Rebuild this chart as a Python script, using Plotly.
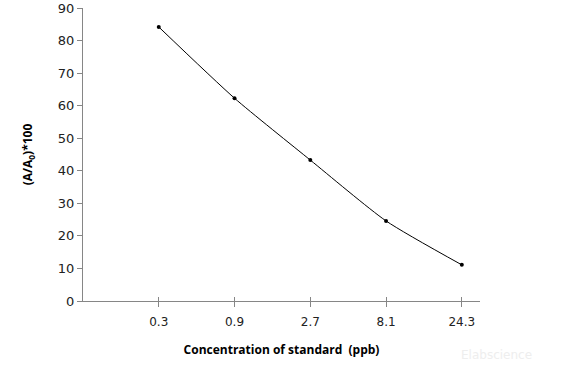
import plotly.graph_objects as go

categories = ["0.3", "0.9", "2.7", "8.1", "24.3"]
values = [84.2, 62.3, 43.3, 24.6, 11.1]
y_ticks = [0, 10, 20, 30, 40, 50, 60, 70, 80, 90]

axis_color = "#868686"
fig = go.Figure()
fig.add_trace(go.Scatter(
    x=list(range(len(categories))), y=values, mode="lines+markers",
    line=dict(color="black", width=1, shape="spline", smoothing=0.6),
    marker=dict(color="black", size=4), showlegend=False))
fig.add_trace(go.Scatter(x=list(range(len(categories))), y=values, mode="markers",
                         marker=dict(opacity=0), xaxis="x2", showlegend=False, hoverinfo="skip"))

fig.update_layout(
    width=588, height=389,
    margin=dict(l=83, r=108, t=8, b=88),
    paper_bgcolor="white", plot_bgcolor="white",
    font=dict(family="DejaVu Sans", color="#333333"),
    xaxis=dict(range=[-1, 4.24], tickmode="array", tickvals=list(range(len(categories))),
               ticktext=categories, showgrid=False, zeroline=False, showline=True,
               linecolor=axis_color, linewidth=1, ticks="outside", ticklen=5,
               tickcolor=axis_color, tickfont=dict(size=12, color="#222222"),
               automargin=False, ticklabelstandoff=5,
               title=dict(text="<b>Concentration of standard  (ppb)</b>",
                          font=dict(family="Open Sans", size=12, color="black"), standoff=17)),
    xaxis2=dict(range=[-1, 4.24], overlaying="x", tickmode="array",
                tickvals=list(range(len(categories))), showticklabels=False,
                ticks="inside", ticklen=4, tickcolor=axis_color, showgrid=False,
                zeroline=False, showline=False, side="bottom", anchor="y"),
    yaxis=dict(range=[0, 90.02], tickmode="array", tickvals=y_ticks,
               showgrid=False, zeroline=False, showline=True, linecolor=axis_color,
               linewidth=1, ticks="outside", ticklen=5, tickcolor=axis_color,
               tickfont=dict(size=13, color="#222222"), automargin=False,
               ticklabeloverflow="allow",
               title=dict(text="<b>(A/A<sub>0</sub>)*100</b>",
                          font=dict(family="Open Sans", size=12, color="black"), standoff=22)),
)
fig.add_annotation(text="Elabscience", xref="paper", yref="paper", x=1.135, y=-0.215,
                   showarrow=False, font=dict(size=12, color="#eeeeee"))
fig.write_html("out.html", config={"displayModeBar": False},
               post_script="document.body.style.margin='0';")
